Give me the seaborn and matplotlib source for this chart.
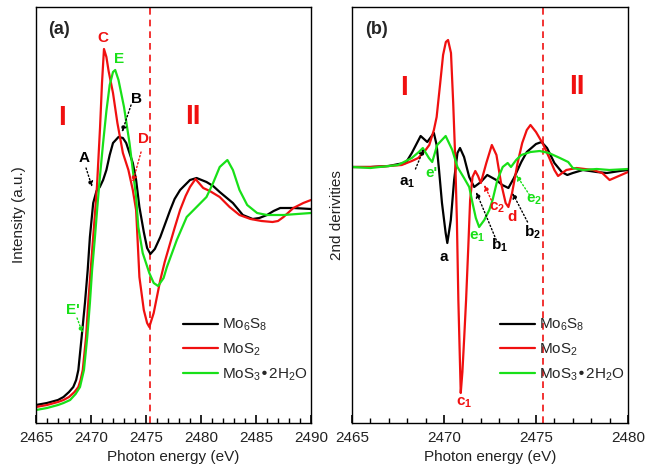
import numpy as np
import pandas as pd
import seaborn as sns
import matplotlib.pyplot as plt
from matplotlib.ticker import MultipleLocator

# ---------------- data: panel (a) XANES intensity (a.u.) ----------------
e_mo6s8_a = [2465, 2466, 2467, 2467.5, 2468, 2468.39, 2468.65, 2468.85, 2469.15, 2469.45,
             2469.7, 2469.9, 2470.2, 2470.5, 2470.8, 2471.1, 2471.4, 2471.7, 2472, 2472.5,
             2472.9, 2473.2, 2473.8, 2474.1, 2474.4, 2474.8, 2475.1, 2475.4, 2475.8, 2476.3,
             2476.8, 2477.2, 2477.6, 2478.1, 2479, 2479.6, 2480.5, 2481.1, 2481.7, 2482.9,
             2483.8, 2484.7, 2485.3, 2486, 2486.6, 2487.2, 2488.4, 2490]
i_mo6s8_a = [18, 20, 23, 26, 31, 36, 43, 53, 86, 120,
             153, 186, 220, 232, 236, 243, 253, 268, 280, 286,
             285, 280, 260, 243, 216, 191, 175, 169, 174, 186,
             201, 213, 224, 233, 243, 245, 241, 237, 231, 220,
             208, 204, 205, 208, 212, 215, 215, 214]

e_mos2_a = [2465, 2466, 2467, 2467.5, 2468, 2468.5, 2468.85, 2469.05, 2469.25, 2469.55,
            2469.75, 2469.97, 2470.2, 2470.4, 2470.55, 2470.82, 2471.0, 2471.18, 2471.4, 2471.6,
            2472, 2472.4, 2472.9, 2473.4, 2473.8, 2474.1, 2474.25, 2474.4, 2474.8, 2475.1,
            2475.3, 2475.7, 2476.3, 2476.7, 2477.2, 2477.6, 2478.1, 2478.6, 2479, 2479.5,
            2480.2, 2480.8, 2481.7, 2482.6, 2483.5, 2484.5, 2485.5, 2486.5, 2487, 2487.5,
            2488.4, 2489.3, 2490]
i_mos2_a = [16, 18, 21, 23, 26, 31, 36, 43, 53, 86,
            120, 153, 186, 215, 238, 295, 340, 374, 366, 352,
            330, 300, 270, 253, 233, 213, 180, 146, 113, 100,
            96, 110, 143, 161, 180, 195, 213, 227, 236, 244,
            235, 232, 226, 216, 208, 204, 202, 201, 202, 206,
            215, 220, 223]

e_mos3_a = [2465, 2466, 2467, 2467.5, 2468.1, 2468.6, 2469.0, 2469.36, 2469.66, 2469.9,
            2470.1, 2470.36, 2470.57, 2470.8, 2471.1, 2471.4, 2471.7, 2472.0, 2472.2, 2472.5,
            2473, 2473.5, 2473.8, 2474.1, 2474.3, 2474.7, 2475.3, 2475.7, 2476.1, 2476.6,
            2476.9, 2477.8, 2478.7, 2479.6, 2480.5, 2481.1, 2481.7, 2482.4, 2482.9, 2483.5,
            2484.2, 2485.1, 2486, 2487.5, 2490]
i_mos3_a = [13, 15, 18, 20, 23, 29, 36, 53, 86, 120,
            153, 186, 215, 245, 280, 312, 338, 351, 353, 343,
            316, 280, 253, 226, 196, 170, 150, 140, 137, 145,
            156, 183, 206, 216, 226, 240, 256, 263, 253, 233,
            218, 210, 208, 208, 210]

# ---------------- data: panel (b) 2nd derivative ----------------
e_mo6s8_b = [2465, 2466, 2467, 2467.54, 2467.92, 2468.25, 2468.73, 2469.09, 2469.45, 2469.6,
             2469.73, 2469.89, 2470.09, 2470.18, 2470.37, 2470.55, 2470.73, 2470.87, 2471.09, 2471.37,
             2471.64, 2472.0, 2472.35, 2472.84, 2473.17, 2473.5, 2473.8, 2474.2, 2474.5, 2475.0,
             2475.3, 2475.6, 2476.0, 2476.4, 2476.7, 2477.0, 2477.55, 2478.3, 2478.85, 2479.56, 2480]
d_mo6s8_b = [0, 0, 1, 3, 4, 14, 31, 25, 34, 22,
             -3, -36, -66, -76, -53, -13, 14, 19, 10, -10,
             -20, -15, -8, -13, -18, -21, -11, 5, 15, 23,
             25, 19, 4, -5, -8, -6, -3, -5, -6, -4, -3]

e_mos2_b = [2465, 2466, 2467, 2467.7, 2468.25, 2468.6, 2469.0, 2469.2, 2469.45, 2469.6,
            2469.8, 2469.95, 2470.1, 2470.22, 2470.38, 2470.5, 2470.6, 2470.7, 2470.78, 2470.91,
            2471.0, 2471.1, 2471.2, 2471.32, 2471.42, 2471.55, 2471.7, 2471.85, 2472.0, 2472.3,
            2472.6, 2472.85, 2473.1, 2473.35, 2473.5, 2473.7, 2474.0, 2474.25, 2474.5, 2474.7,
            2475.0, 2475.35, 2475.7, 2476.0, 2476.2, 2476.65, 2477.2, 2478.1, 2478.6, 2479.0,
            2479.5, 2480]
d_mos2_b = [0, 0, 1, 2, 6, 9, 17, 22, 37, 50,
            85, 112, 125, 127, 114, 64, 14, -53, -133, -226,
            -205, -170, -133, -80, -33, -10, -4, -9, -16, 4,
            22, 12, -16, -36, -40, -26, 4, 24, 37, 42,
            35, 24, 10, -3, -9, -3, -1, -3, -6, -13,
            -9, -5]

e_mos3_b = [2465, 2466, 2467, 2467.5, 2468.25, 2468.63, 2468.85, 2469.18, 2469.36, 2469.63,
            2470.09, 2470.45, 2470.73, 2471.09, 2471.37, 2471.55, 2471.73, 2471.91, 2472.19, 2472.46,
            2472.64, 2472.9, 2473.19, 2473.46, 2473.64, 2473.92, 2474.2, 2474.7, 2475.2, 2475.7,
            2476.3, 2476.75, 2477.0, 2477.55, 2478.3, 2479.0, 2480]
d_mos3_b = [0, -1, 1, 2, 9, 15, 19, 9, 5, 22,
            31, 17, 0, -11, -20, -36, -51, -60, -53, -43,
            -33, -13, 0, 4, 0, 7, 12, 15, 16, 14,
            9, 5, -1, -3, -2, -3, -2]

labels = ['Mo$_6$S$_8$', 'MoS$_2$', 'MoS$_3$\u20222H$_2$O']
colors = ['#000000', '#f01010', '#18e018']
edge_line = 2475.4

# ---------------- style ----------------
sns.set_style('ticks', {'xtick.direction': 'in', 'xtick.bottom': True,
                        'axes.edgecolor': 'black', 'xtick.color': 'black'})
plt.rcParams['font.family'] = ['Liberation Sans', 'DejaVu Sans']
plt.rcParams['mathtext.default'] = 'regular'
plt.rcParams['axes.axisbelow'] = False
plt.rcParams['xtick.major.size'] = 6
plt.rcParams['xtick.minor.size'] = 3.5
plt.rcParams['xtick.major.width'] = 1.2
plt.rcParams['xtick.minor.width'] = 1.0
plt.rcParams['xtick.minor.visible'] = True

fig = plt.figure(figsize=(6.46, 4.66), dpi=100)
ax1 = fig.add_axes([36 / 646, 43 / 466, 275 / 646, 416 / 466])
ax2 = fig.add_axes([352 / 646, 43 / 466, 276 / 646, 416 / 466])

def long_df(parts):
    frames = []
    for lab, e, v in parts:
        frames.append(pd.DataFrame({'energy': e, 'value': v, 'sample': lab}))
    return pd.concat(frames, ignore_index=True)

df_a = long_df([(labels[0], e_mo6s8_a, i_mo6s8_a),
                (labels[1], e_mos2_a, i_mos2_a),
                (labels[2], e_mos3_a, i_mos3_a)])
df_b = long_df([(labels[0], e_mo6s8_b, d_mo6s8_b),
                (labels[1], e_mos2_b, d_mos2_b),
                (labels[2], e_mos3_b, d_mos3_b)])

pal = dict(zip(labels, colors))
for ax, df in ((ax1, df_a), (ax2, df_b)):
    sns.lineplot(data=df, x='energy', y='value', hue='sample', palette=pal,
                 hue_order=labels, estimator=None, sort=False, linewidth=1.6,
                 ax=ax, legend=False)

ax1.set_xlim(2465, 2490)
ax1.set_ylim(0, 416)
ax2.set_xlim(2465, 2480)
ax2.set_ylim(-256, 160)

for ax in (ax1, ax2):
    ax.axvline(edge_line, color=colors[1], ls=(0, (4, 3)), lw=1.2, zorder=1)
    ax.xaxis.set_major_locator(MultipleLocator(5))
    ax.xaxis.set_minor_locator(MultipleLocator(1))
    ax.xaxis.set_ticks_position('bottom')
    ax.xaxis.set_tick_params(which='major', direction='in', length=6, width=1.2,
                             color='black', labelsize=11, labelcolor='#222222', pad=6)
    ax.xaxis.set_tick_params(which='minor', direction='in', length=3.5, width=1.0,
                             color='black')
    ax.set_yticks([])
    ax.set_axisbelow(False)
    for s in ax.spines.values():
        s.set_visible(True)
        s.set_linewidth(1.0)
        s.set_color('black')
    ax.set_xlabel('Photon energy (eV)', fontsize=11, labelpad=3, color='#222222')
    ax.legend(handles=ax.lines[:3], labels=labels, loc='upper left',
              bbox_to_anchor=(0.535, 0.255), frameon=False, fontsize=11,
              handlelength=2.3, handletextpad=0.25, labelspacing=0.55,
              borderpad=0, borderaxespad=0)

ax1.set_ylabel('Intensity (a.u.)', fontsize=11, labelpad=7, color='#222222')
ax2.set_ylabel('2nd derivities', fontsize=11, labelpad=6, color='#222222')

# ---------------- annotations ----------------
def lab(ax, x, y, s, c, size=11):
    ax.text(x, y, s, color=c, fontsize=size, fontweight='bold', ha='center', va='center')

def arr(ax, xy_from, xy_to, c):
    ax.annotate('', xy=xy_to, xytext=xy_from,
                arrowprops=dict(arrowstyle='-|>', color=c, lw=1.0, ls=':',
                                mutation_scale=8, shrinkA=0, shrinkB=0))

ax1.text(0.084, 0.945, '(a)', transform=ax1.transAxes, fontsize=13, fontweight='bold',
         ha='center', va='center')
ax2.text(0.09, 0.945, '(b)', transform=ax2.transAxes, fontsize=13, fontweight='bold',
         ha='center', va='center')

red, green, black = colors[1], colors[2], colors[0]
lab(ax1, 2471.09, 385, 'C', red)
lab(ax1, 2472.55, 364, 'E', green)
lab(ax1, 2474.1, 324, 'B', black)
lab(ax1, 2469.36, 265, 'A', black)
lab(ax1, 2474.73, 284, 'D', red)
lab(ax1, 2468.36, 113, "E'", green)
lab(ax1, 2467.36, 305, 'I', red, size=20)
lab(ax1, 2479.27, 306, 'II', red, size=20)
arr(ax1, (2469.55, 255), (2470.1, 236), black)
arr(ax1, (2473.64, 318), (2472.82, 291), black)
arr(ax1, (2474.55, 271), (2473.79, 241), red)
arr(ax1, (2468.73, 105), (2469.24, 90), green)

lab(ax2, 2467.81, 79, 'I', red, size=20)
lab(ax2, 2477.21, 80, 'II', red, size=20)
lab(ax2, 2468.0, -16, 'a$_1$', black)
lab(ax2, 2469.34, -6, "e'", green)
lab(ax2, 2472.9, -41, 'c$_2$', red)
lab(ax2, 2473.72, -50, 'd', red)
lab(ax2, 2474.92, -33, 'e$_2$', green)
lab(ax2, 2474.81, -65, 'b$_2$', black)
lab(ax2, 2471.8, -70, 'e$_1$', green)
lab(ax2, 2473.0, -78, 'b$_1$', black)
lab(ax2, 2470.0, -90, 'a', black)
lab(ax2, 2471.09, -236, 'c$_1$', red)
arr(ax2, (2468.45, -2), (2468.9, 18), black)
arr(ax2, (2472.84, -73), (2471.75, -25), black)
arr(ax2, (2472.57, -33), (2472.19, -18), red)
arr(ax2, (2474.54, -55), (2473.72, -26), black)
arr(ax2, (2474.65, -28), (2473.93, -8), green)

fig.savefig('out.png', dpi=100)
